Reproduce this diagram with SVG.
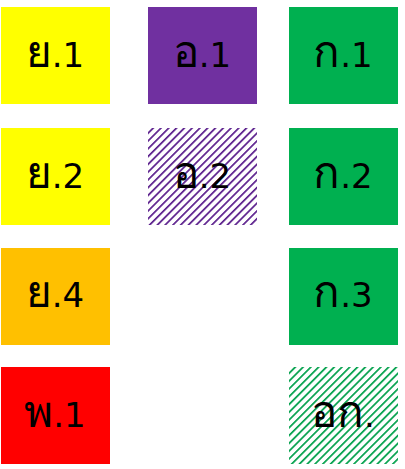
<svg xmlns="http://www.w3.org/2000/svg" width="405" height="469" viewBox="0 0 405 469">
<style>
text{font-family:"DejaVu Sans","Noto Sans",sans-serif;font-size:34px;text-anchor:middle;fill:#000}
.th{font-size:44px}
</style>
<defs>
<pattern id="hp" patternUnits="userSpaceOnUse" width="5.5" height="5.5" patternTransform="rotate(45)">
<rect x="0" y="0" width="1.7" height="5.5" fill="#5A1E8C"/>
</pattern>
<pattern id="hg" patternUnits="userSpaceOnUse" width="5.5" height="5.5" patternTransform="rotate(45)">
<rect x="0" y="0" width="1.7" height="5.5" fill="#00A04A"/>
</pattern>
</defs>
<rect width="405" height="469" fill="#fff"/>
<g id="y1"><rect x="1" y="7" width="109" height="97" fill="#FFFF00"/><text x="55" y="67"><tspan class="th">ย</tspan>.1</text></g>
<g id="o1"><rect x="148" y="7" width="109" height="97" fill="#7030A0"/><text x="202" y="67"><tspan class="th">อ</tspan>.1</text></g>
<g id="k1"><rect x="289" y="7" width="109" height="97" fill="#00B050"/><text x="343" y="67"><tspan class="th">ก</tspan>.1</text></g>
<g id="y2"><rect x="1" y="128" width="109" height="97" fill="#FFFF00"/><text x="55" y="188"><tspan class="th">ย</tspan>.2</text></g>
<g id="o2"><rect x="148" y="128" width="109" height="97" fill="url(#hp)"/><text x="202" y="188"><tspan class="th">อ</tspan>.2</text></g>
<g id="k2"><rect x="289" y="128" width="109" height="97" fill="#00B050"/><text x="343" y="188"><tspan class="th">ก</tspan>.2</text></g>
<g id="y4"><rect x="1" y="248" width="109" height="97" fill="#FFC000"/><text x="55" y="307"><tspan class="th">ย</tspan>.4</text></g>
<g id="k3"><rect x="289" y="248" width="109" height="97" fill="#00B050"/><text x="343" y="307"><tspan class="th">ก</tspan>.3</text></g>
<g id="p1"><rect x="1" y="367" width="109" height="97" fill="#FF0000"/><text x="55" y="427"><tspan class="th">พ</tspan>.1</text></g>
<g id="ok"><rect x="289" y="367" width="109" height="97" fill="url(#hg)"/><text x="343" y="427"><tspan class="th">อก</tspan>.</text></g>
<g id="connectors"/>
</svg>
